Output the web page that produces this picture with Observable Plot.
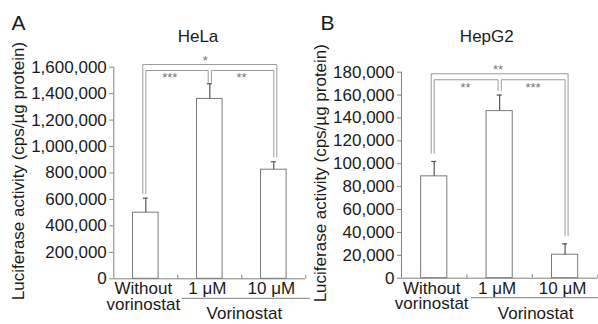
<!DOCTYPE html>
<html>
<head>
<meta charset="utf-8">
<script src="https://cdn.jsdelivr.net/npm/d3@7"></script>
<script src="https://cdn.jsdelivr.net/npm/@observablehq/plot@0.6"></script>
<style>
  html, body { margin: 0; padding: 0; background: #fff; }
  #wrap { position: relative; width: 598px; height: 324px; overflow: hidden; }
  #panelA { position: absolute; left: 0; top: 0; }
  #panelB { position: absolute; left: 312px; top: 0; }
</style>
</head>
<body>
<div id="wrap"><div id="panelA"></div><div id="panelB"></div></div>
<script>
// ---- data ----
const categories = ["Without\nvorinostat", "1 \u03bcM", "10 \u03bcM"];
const groupLabel = "Vorinostat";
const yLabel = "Luciferase activity (cps/\u00b5g protein)";

const helaTitle = "HeLa";
const helaLetter = "A";
const helaMeans = [500000, 1360000, 825000];
const helaErrTops = [610000, 1475000, 885000];
const helaTicks = [0, 200000, 400000, 600000, 800000, 1000000, 1200000, 1400000, 1600000];
// brackets: [fromIndex, toIndex, level, legBottomFrom, legBottomTo]
const helaBrackets = [
  [0, 2, 1620000, 643000, 919000],
  [0, 1, 1575000, 643000, 1486000],
  [1, 2, 1575000, 1486000, 919000]
];
const helaStars = ["*", "***", "**"];
const helaStarX = [1.43, 0.875, 1.995];
const helaStarY = [1673000, 1542000, 1542000];

const hepTitle = "HepG2";
const hepLetter = "B";
const hepMeans = [89000, 146000, 20500];
const hepErrTops = [102000, 160000, 30000];
const hepTicks = [0, 20000, 40000, 60000, 80000, 100000, 120000, 140000, 160000, 180000];
const hepBrackets = [
  [0, 2, 178600, 109200, 37300],
  [0, 1, 173400, 109200, 164000],
  [1, 2, 173400, 164000, 37300]
];
const hepStars = ["**", "**", "***"];
const hepStarX = [1.475, 0.98, 2.01];
const hepStarY = [184400, 169000, 169000];

// ---- styles ----
const FONT = "'Liberation Sans', Arial, Helvetica, sans-serif";
const BAR = "#7a7a7a";
const AXIS = "#808080";
const ERR = "#555";
const BRK = "#9a9a9a";
const TXT = "#1a1a1a";

function panel(cfg) {
  const {width, marginLeft, marginRight, marginTop, marginBottom, yMax, means, errTops, ticks,
         brackets, stars, starX, starY, title, letter, titleX, titleBase, letterX, letterBase,
         labelX, labelDy, underX1, underX2, groupX, band} = cfg;
  const rows = categories.map((c, i) => ({label: c, pos: i + 0.5, value: means[i], err: errTops[i]}));
  const px = 1 / band; // one pixel in x units
  const bracketPts = [];
  brackets.forEach((b, k) => {
    const [f, t, level, bf, bt] = b;
    let of, ot;
    if (t - f === 2) { of = -3; ot = 3; }
    else if (f === 0) { of = 0; ot = -1.6; }
    else { of = 1.6; ot = 0; }
    const xf = f + 0.5 + of * px, xt = t + 0.5 + ot * px;
    bracketPts.push({k, x: xf, y: bf}, {k, x: xf, y: level}, {k, x: xt, y: level}, {k, x: xt, y: bt});
  });
  const starRows = stars.map((s, i) => ({s, x: starX[i], y: starY[i]}));
  const plotTop = marginTop;
  return Plot.plot({
    width, height: 324, marginLeft, marginRight, marginTop, marginBottom,
    style: {fontFamily: FONT, fontSize: "17px", background: "transparent", overflow: "visible", color: TXT},
    x: {type: "linear", domain: [0, 3], axis: null},
    y: {domain: [0, yMax], axis: null},
    marks: [
      Plot.rect(rows, {x1: d => d.pos - 0.2, x2: d => d.pos + 0.2, y1: 0, y2: "value", fill: "white", stroke: BAR, strokeWidth: 1}),
      Plot.ruleX(rows, {x: "pos", y1: "value", y2: "err", stroke: ERR, strokeWidth: 1.2}),
      Plot.ruleY(rows, {x1: "pos", x2: "pos", y: "err", insetLeft: -2.5, insetRight: -2.5, stroke: ERR, strokeWidth: 1.2}),
      Plot.ruleX([0], {y1: 0, y2: yMax, stroke: AXIS}),
      Plot.ruleY([0], {x1: 0, x2: 3, stroke: AXIS}),
      Plot.ruleX([1, 2, 3], {y1: 0, y2: 0, insetTop: -3.5, stroke: AXIS}),
      Plot.axisY(ticks, {tickSize: 4, tickPadding: 3, tickFormat: d3.format(","), stroke: AXIS, fill: TXT, label: null, fontSize: 17}),
      Plot.text(rows, {x: d => d.pos - 2.5 * px, y: 0, text: "label", lineAnchor: "top", dy: 4.5, lineHeight: 0.92, fill: TXT, fontSize: 17}),
      Plot.ruleY([0], {x1: underX1, x2: underX2, dy: 19.5, stroke: AXIS}),
      Plot.text([groupLabel], {x: groupX, y: 0, lineAnchor: "top", dy: 28.5, fill: TXT, fontSize: 17}),
      Plot.line(bracketPts, {x: "x", y: "y", z: "k", stroke: BRK, strokeWidth: 1, curve: "linear"}),
      Plot.text(starRows, {x: "x", y: "y", text: "s", fill: "#777", fontSize: 13, dy: 3}),
      Plot.text([title], {frameAnchor: "top-left", dx: titleX - marginLeft, dy: titleBase - plotTop, lineAnchor: "bottom", textAnchor: "middle", fill: TXT, fontSize: 17}),
      Plot.text([letter], {frameAnchor: "top-left", dx: letterX - marginLeft, dy: letterBase - plotTop, lineAnchor: "bottom", textAnchor: "start", fill: TXT, fontSize: 21}),
      Plot.text([yLabel], {frameAnchor: "left", dx: labelX - marginLeft, dy: labelDy, rotate: -90, textAnchor: "middle", lineAnchor: "middle", fill: TXT, fontSize: 17})
    ]
  });
}

document.getElementById("panelA").append(panel({
  width: 312, marginLeft: 113.3, marginRight: 6.7, marginTop: 66.7, marginBottom: 324 - 278.3,
  yMax: 1600000, means: helaMeans, errTops: helaErrTops, ticks: helaTicks,
  brackets: helaBrackets, stars: helaStars, starX: helaStarX, starY: helaStarY,
  title: helaTitle, letter: helaLetter, titleX: 197.5, titleBase: 41.7, letterX: 11, letterBase: 29.5,
  labelX: 18.5, labelDy: -2, underX1: 1.07, underX2: 3.07, groupX: 2.04, band: 64
}));

document.getElementById("panelB").append(panel({
  width: 286, marginLeft: 89, marginRight: 0.7, marginTop: 71.7, marginBottom: 324 - 277.7,
  yMax: 180000, means: hepMeans, errTops: hepErrTops, ticks: hepTicks,
  brackets: hepBrackets, stars: hepStars, starX: hepStarX, starY: hepStarY,
  title: hepTitle, letter: hepLetter, titleX: 486.3 - 312, titleBase: 41.7, letterX: 320 - 312, letterBase: 29.5,
  labelX: 320 - 312, labelDy: -2, underX1: 1.07, underX2: 3.02, groupX: 2.05, band: 65.3
}));
</script>
</body>
</html>
